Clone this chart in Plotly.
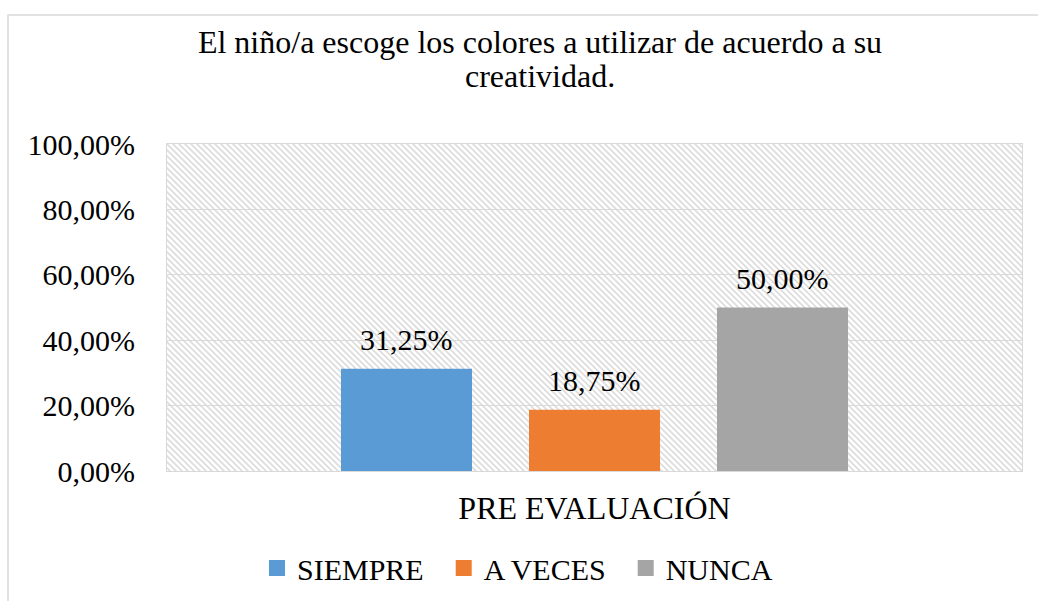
import base64
import plotly.graph_objects as go

categories = ["PRE EVALUACIÓN"]
series_names = ["SIEMPRE", "A VECES", "NUNCA"]
series_values = [[0.3125], [0.1875], [0.50]]
series_colors = ["#5B9BD5", "#ED7D31", "#A5A5A5"]
title_lines = ["El niño/a escoge los colores a utilizar de acuerdo a su", "creatividad."]
y_ticks = [0, 0.2, 0.4, 0.6, 0.8, 1.0]

FONT = "Liberation Serif"
FS = 30

W, H = 1038, 601
ML, MR, MT, MB = 167, 16, 144, 130
PW, PH = W - ML - MR, H - MT - MB
SLOT = 188  # px between bar centres in the group
PAD = "\u00a0\u00a0"


def fmt(v):
    return f"{v*100:.2f}%".replace(".", ",")


fig = go.Figure()
n = len(series_names)
annotations = []
for i, (name, vals, col) in enumerate(zip(series_names, series_values, series_colors)):
    fig.add_trace(go.Bar(
        name=name, x=categories, y=vals, marker_color=col,
        marker_line_width=0, showlegend=False, hoverinfo="skip",
    ))
    # legend entry with a larger square swatch
    fig.add_trace(go.Scatter(
        name=name + (PAD if i < n - 1 else ""), x=[None], y=[None], mode="markers",
        marker=dict(symbol="square", size=16, color=col),
        showlegend=True, hoverinfo="skip",
    ))
    for c, v in zip(categories, vals):
        annotations.append(dict(
            x=c, y=v, xref="x", yref="y", text=fmt(v), showarrow=False,
            xshift=(i - (n - 1) / 2) * SLOT, yshift=11, yanchor="bottom",
            font=dict(family=FONT, size=FS, color="#000000"),
        ))

annotations.append(dict(
    text=title_lines[1], xref="paper", yref="paper", x=(540 - ML) / PW,
    y=(471 - 76) / PH, xanchor="center", yanchor="middle", showarrow=False,
    font=dict(family=FONT, size=32, color="#000000"),
))

# hatched plot-area background
svg = f'''<svg xmlns="http://www.w3.org/2000/svg" width="{PW}" height="{PH}" viewBox="0 0 {PW} {PH}" preserveAspectRatio="none">
<defs><pattern id="p" width="6" height="6" patternUnits="userSpaceOnUse">
<path d="M-1,-1 L7,7 M-1,5 L1,7 M5,-1 L7,1" stroke="#dcdcdc" stroke-width="1.6"/>
</pattern></defs>
<rect width="{PW}" height="{PH}" fill="#ffffff"/>
<rect width="{PW}" height="{PH}" fill="url(#p)"/>
</svg>'''
uri = "data:image/svg+xml;base64," + base64.b64encode(svg.encode()).decode()

group_w = SLOT * n
fig.update_layout(
    width=W, height=H,
    margin=dict(l=ML, r=MR, t=MT, b=MB, autoexpand=False),
    paper_bgcolor="#ffffff", plot_bgcolor="rgba(0,0,0,0)",
    separators=",.",
    barmode="group", bargap=1 - group_w / PW, bargroupgap=1 - 131 / SLOT,
    font=dict(family=FONT, size=FS, color="#000000"),
    title=dict(text=title_lines[0], x=540 / W, xanchor="center", xref="container",
               y=1 - 42 / H, yanchor="middle", yref="container",
               font=dict(family=FONT, size=32, color="#000000")),
    annotations=annotations,
    showlegend=True,
    legend=dict(orientation="h", x=257 / W, xref="container", xanchor="left",
                y=1 - 568 / H, yref="container", yanchor="middle",
                font=dict(family=FONT, size=FS),
                itemwidth=30, traceorder="normal"),
    images=[dict(source=uri, xref="paper", yref="paper", x=0, y=1,
                 sizex=1, sizey=1, sizing="stretch", layer="below",
                 xanchor="left", yanchor="top")],
    shapes=[dict(type="rect", xref="paper", yref="paper",
                 x0=(8 - ML) / PW, x1=(1050 - ML) / PW,
                 y0=(471 - 615) / PH, y1=(471 - 15) / PH,
                 line=dict(color="#d9d9d9", width=1.5), fillcolor="rgba(0,0,0,0)",
                 layer="below")],
)
fig.update_yaxes(range=[0, 1], tickvals=y_ticks, tickformat=".2%",
                 showgrid=True, gridcolor="#d9d9d9", gridwidth=1,
                 showline=True, linecolor="#d9d9d9", mirror=True,
                 zeroline=False, ticks="", ticklabelstandoff=25,
                 tickfont=dict(family=FONT, size=FS, color="#000000"))
fig.update_xaxes(showline=True, linecolor="#d9d9d9", mirror=True,
                 showgrid=False, ticks="", ticklabelstandoff=9,
                 tickfont=dict(family=FONT, size=32, color="#000000"))

fig.write_html("out.html", config={"displayModeBar": False},
               post_script="document.body.style.margin='0';")
